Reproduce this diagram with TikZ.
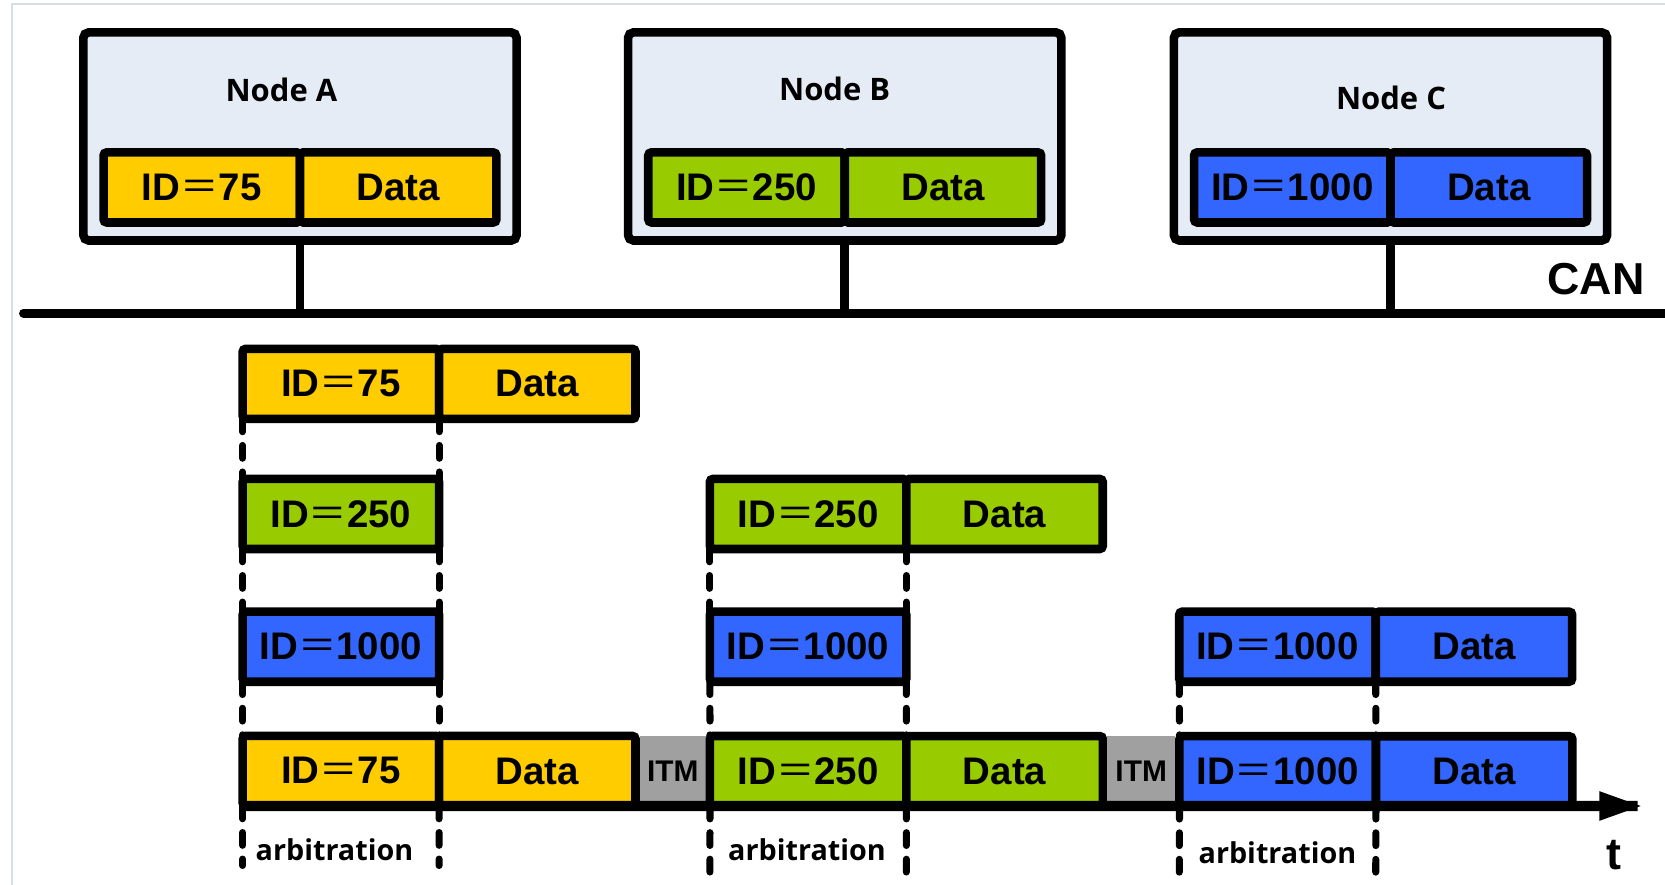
\documentclass[tikz,border=0pt]{standalone}
\usepackage{fontspec}
\usepackage{tikz}
\usetikzlibrary{positioning}
\setmainfont{Liberation Sans}
\newfontfamily\cjkfont{Noto Sans CJK SC}
\newfontfamily\lblfont{Open Sans}
\newcommand{\feq}{{\cjkfont\mdseries ＝}}
\definecolor{canyellow}{RGB}{255,204,0}
\definecolor{cangreen}{RGB}{153,204,0}
\definecolor{canblue}{RGB}{51,102,255}
\definecolor{itmgray}{RGB}{160,160,160}
\definecolor{nodefill}{RGB}{230,236,246}
\definecolor{framecol}{RGB}{214,222,232}

\begin{document}
\begin{tikzpicture}[scale=0.1]
			\tikzstyle{every node}+=[inner sep=0pt, font=\bfseries\fontsize{10.3}{12}\selectfont]
			\tikzstyle{station}=[draw, line width=2.3pt, fill=nodefill, outer sep=0pt, minimum width=40.8mm, minimum height=19.6mm, rounded corners=0.5mm]
			\tikzstyle{cell}=[draw, line width=2.3pt, outer sep=0pt, minimum width=18.5mm, minimum height=6.6mm, rounded corners=0.3mm]
			\tikzstyle{itm}=[fill=itmgray, outer sep=0pt, minimum width=7mm-2.3pt, minimum height=6.6mm, font=\bfseries\fontsize{8}{9}\selectfont]
			\tikzstyle{lbl}=[font=\lblfont\bfseries\fontsize{7.7}{9}\selectfont]
			\tikzstyle{wire}=[line width=2.3pt]
			\tikzstyle{arb}=[line width=1.9pt, line cap=round, dash pattern=on 1.2mm off 1.3mm]
			\useasboundingbox (0,0) rectangle (156.8,-83.3);
			\draw [framecol, line width=0.6pt] (1.1,-83.3) -- (1.1,-0.4) -- (156.8,-0.4);
			% stations on the bus
			\node [station] (nA) at (28.25,-12.85) {};
			\node [station] (nB) at (79.55,-12.85) {};
			\node [station] (nC) at (130.95,-12.85) {};
			\node [lbl, font=\lblfont\bfseries\fontsize{8.3}{10}\selectfont] (nAlbl) at (26.5,-8.5) {Node A};
			\node [lbl, font=\lblfont\bfseries\fontsize{8.3}{10}\selectfont] (nBlbl) at (78.6,-8.4) {Node B};
			\node [lbl, font=\lblfont\bfseries\fontsize{8.3}{10}\selectfont] (nClbl) at (131.0,-9.2) {Node C};
			\node [cell, fill=canyellow, anchor=east] (nAid) at (28.25,-17.65) {ID\feq75};
			\node [cell, fill=canyellow, right=0mm of nAid] (nAdata) {Data};
			\node [cell, fill=cangreen, anchor=east] (nBid) at (79.55,-17.65) {ID\feq250};
			\node [cell, fill=cangreen, right=0mm of nBid] (nBdata) {Data};
			\node [cell, fill=canblue, anchor=east] (nCid) at (130.95,-17.65) {ID\feq1000};
			\node [cell, fill=canblue, right=0mm of nCid] (nCdata) {Data};
			\coordinate (busL) at (2.2,-29.5);
			\coordinate (busR) at (156.8,-29.5);
			\draw [wire, line cap=round] (busL) -- (busR);
			\draw [wire] (nA.south) -- (nA.south |- busL);
			\draw [wire] (nB.south) -- (nB.south |- busL);
			\draw [wire] (nC.south) -- (nC.south |- busL);
			\node [font=\bfseries\fontsize{12}{14}\selectfont] (can) at (150.3,-26.3) {CAN};
			% frames sent by each station
			\node [cell, fill=canyellow, anchor=west] (r1a) at (22.85,-36.15) {ID\feq75};
			\node [cell, fill=canyellow, right=0mm of r1a] (r1b) {Data};
			\node [cell, fill=cangreen, anchor=west] (r2a) at (22.85,-48.4) {ID\feq250};
			\node [cell, fill=cangreen, anchor=west] (r2c) at (66.85,-48.4) {ID\feq250};
			\node [cell, fill=cangreen, right=0mm of r2c] (r2d) {Data};
			\node [cell, fill=canblue, anchor=west] (r3a) at (22.85,-60.9) {ID\feq1000};
			\node [cell, fill=canblue, anchor=west] (r3c) at (66.85,-60.9) {ID\feq1000};
			\node [cell, fill=canblue, anchor=west] (r3e) at (111.05,-60.9) {ID\feq1000};
			\node [cell, fill=canblue, right=0mm of r3e] (r3f) {Data};
			% what the bus carries
			\node [cell, fill=canyellow, anchor=west] (r4a) at (22.85,-72.6) {ID\feq75};
			\node [cell, fill=canyellow, right=0mm of r4a] (r4b) {Data};
			\node [itm, right=1.15pt of r4b] (itm1) {ITM};
			\node [cell, fill=cangreen, right=1.15pt of itm1] (r4c) {ID\feq250};
			\node [cell, fill=cangreen, right=0mm of r4c] (r4d) {Data};
			\node [itm, right=1.15pt of r4d, minimum width=7.2mm-2.3pt] (itm2) {ITM};
			\node [cell, fill=canblue, right=1.15pt of itm2] (r4e) {ID\feq1000};
			\node [cell, fill=canblue, right=0mm of r4e] (r4f) {Data};
			\coordinate (tip) at (154.5,-75.9);
			\draw [wire, line width=2.7pt] (r4a.south west) -- ([xshift=-3mm]tip);
			\fill [black] (tip) -- ++(-3.9,1.4) -- ++(0,-2.8) -- cycle;
			\node [font=\bfseries\fontsize{12}{14}\selectfont] (tlbl) at (152.0,-80.5) {t};
			% arbitration windows
			\coordinate (a1L) at (22.85,-81.5);
			\coordinate (a1R) at (41.35,-81.5);
			\coordinate (a2L) at (66.85,-82.5);
			\coordinate (a2R) at (85.35,-82.5);
			\coordinate (a3L) at (111.05,-82.8);
			\coordinate (a3R) at (129.55,-82.8);
			\draw [arb] (r1a.south west) -- (r2a.north west);
			\draw [arb] (r2a.south west) -- (r3a.north west);
			\draw [arb] (r3a.south west) -- (r4a.north west);
			\draw [arb] (r4a.south west) -- (a1L);
			\draw [arb] (r1a.south east) -- (r2a.north east);
			\draw [arb] (r2a.south east) -- (r3a.north east);
			\draw [arb] (r3a.south east) -- (r4a.north east);
			\draw [arb] (r4a.south east) -- (a1R);
			\draw [arb] (r2c.south west) -- (r3c.north west);
			\draw [arb] (r3c.south west) -- (r4c.north west);
			\draw [arb] (r4c.south west) -- (a2L);
			\draw [arb] (r2c.south east) -- (r3c.north east);
			\draw [arb] (r3c.south east) -- (r4c.north east);
			\draw [arb] (r4c.south east) -- (a2R);
			\draw [arb] (r3e.south west) -- (r4e.north west);
			\draw [arb] (r4e.south west) -- (a3L);
			\draw [arb] (r3e.south east) -- (r4e.north east);
			\draw [arb] (r4e.south east) -- (a3R);
			\node [lbl] (arb1) at (31.5,-80.0) {arbitration};
			\node [lbl] (arb2) at (76.0,-80.0) {arbitration};
			\node [lbl] (arb3) at (120.3,-80.3) {arbitration};
\end{tikzpicture}
\end{document}
